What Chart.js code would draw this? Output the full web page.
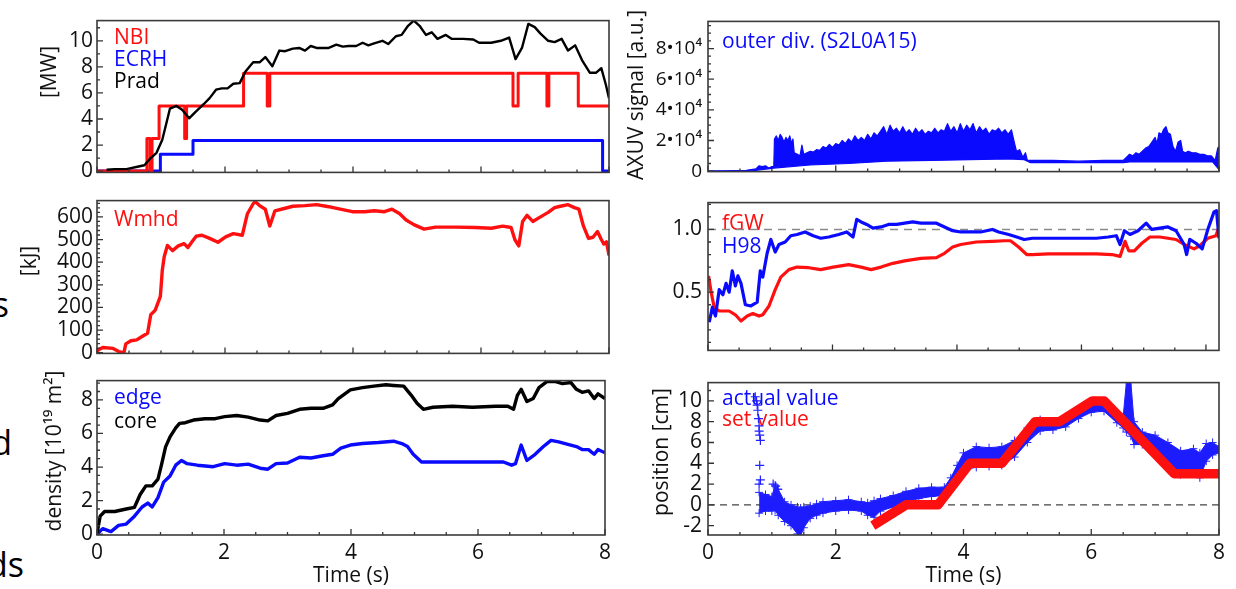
<!DOCTYPE html>
<html><head><meta charset="utf-8">
<script src="https://cdn.jsdelivr.net/npm/chart.js@4.4.1/dist/chart.umd.min.js"></script>
<style>
html,body{margin:0;padding:0;background:#fff;}
body{width:1236px;height:589px;overflow:hidden;position:relative;}
canvas{position:absolute;}
.frag{position:absolute;font-family:'Open Sans',sans-serif;font-size:34px;line-height:34px;color:#000;white-space:nowrap;text-align:right;width:100px;}
</style></head><body>
<div class="frag" style="left:-91px;top:287px;">s</div>
<div class="frag" style="left:-88px;top:425px;">d</div>
<div class="frag" style="left:-76px;top:547px;">ds</div>
<canvas id="p1" width="616" height="185" style="left:0px;top:4px"></canvas>
<canvas id="p2" width="616" height="186" style="left:0px;top:184px"></canvas>
<canvas id="p3" width="616" height="225" style="left:0px;top:364px"></canvas>
<canvas id="p4" width="618" height="185" style="left:612px;top:4px"></canvas>
<canvas id="p5" width="618" height="185" style="left:612px;top:184px"></canvas>
<canvas id="p6" width="618" height="225" style="left:612px;top:364px"></canvas>
<script>
// ---------------- DATA ----------------
const timeTicks = [0, 2, 4, 6, 8];
const timeLabels = ['0', '2', '4', '6', '8'];

// Panel 1: heating powers [MW]
const pradT = [0.15,0.28,0.46,0.65,0.74,0.84,0.93,1.02,1.08,1.14,1.24,1.33,1.44,1.52,1.67,1.76,1.86,1.95,2.04,2.13,2.23,2.32,2.44,2.54,2.63,2.74,2.85,2.94,3.06,3.16,3.25,3.34,3.43,3.62,3.74,3.84,3.93,4.05,4.15,4.24,4.33,4.46,4.55,4.67,4.76,4.86,4.95,5.04,5.14,5.23,5.32,5.45,5.54,5.72,5.88,5.97,6.16,6.31,6.44,6.54,6.64,6.74,6.84,6.93,7.05,7.15,7.26,7.36,7.47,7.58,7.70,7.80,7.88,7.95,8.0];
const pradV = [0.1,0.15,0.15,0.35,0.45,1.0,1.4,2.4,3.6,4.8,5.0,4.7,4.05,4.45,5.15,5.6,6.25,6.35,6.35,6.7,6.75,7.65,8.35,8.35,8.75,8.05,9.25,9.2,9.4,9.45,9.25,9.6,9.45,9.45,9.7,9.55,9.6,9.6,9.85,9.65,9.8,10.0,9.75,10.35,10.45,11.15,11.55,11.15,10.45,10.65,10.15,10.45,10.15,10.15,10.1,9.85,9.85,10.0,10.25,8.6,9.45,11.3,11.05,10.55,10.0,9.9,10.15,9.25,9.65,8.5,7.55,7.55,7.9,6.65,5.6];
const nbiT = [0,0.78,0.78,0.83,0.83,0.86,0.86,0.97,0.97,1.37,1.37,1.40,1.40,2.29,2.29,2.66,2.66,2.70,2.70,6.50,6.50,6.58,6.58,7.03,7.03,7.06,7.06,7.52,7.52,8.0];
const nbiV = [0,0,2.5,2.5,0,0,2.5,2.5,5,5,2.5,2.5,5,5,7.5,7.5,5,5,7.5,7.5,5,5,7.5,7.5,5,5,7.5,7.5,5,5];
const ecrhT = [0,0.99,0.99,1.5,1.5,7.9,7.9,8.0];
const ecrhV = [0,0,1.3,1.3,2.35,2.35,0,0];
const mwTicks = [0,2,4,6,8,10];
const mwLabels = ['0','2','4','6','8','10'];

// Panel 2: Wmhd [kJ]
const wT = [0.0,0.02,0.09,0.25,0.34,0.42,0.45,0.53,0.62,0.71,0.79,0.84,0.91,0.99,1.02,1.05,1.10,1.18,1.27,1.36,1.42,1.49,1.55,1.64,1.76,1.89,2.01,2.13,2.27,2.35,2.44,2.47,2.54,2.63,2.70,2.78,2.91,3.06,3.25,3.43,3.62,3.80,3.99,4.18,4.33,4.49,4.61,4.73,4.83,4.95,5.11,5.29,5.60,5.91,6.16,6.34,6.47,6.53,6.59,6.65,6.72,6.81,6.93,7.05,7.15,7.24,7.36,7.46,7.53,7.60,7.68,7.75,7.82,7.88,7.92,7.96,8.0];
const wV = [5,12,23,19,5,-1,39,53,57,73,86,168,188,249,364,424,474,451,472,482,465,492,515,519,505,488,512,526,519,614,658,668,650,634,560,627,636,647,650,654,645,634,623,623,627,623,634,614,586,566,546,555,555,553,550,559,553,499,472,580,607,580,600,620,641,647,654,641,634,560,505,510,535,500,480,490,430];
const kjTicks = [0,100,200,300,400,500,600];
const kjLabels = ['0','100','200','300','400','500','600'];

// Panel 3: density [1e19 m^-2]
const coreT = [0,0.05,0.12,0.28,0.46,0.59,0.68,0.77,0.87,0.96,1.02,1.08,1.15,1.24,1.30,1.39,1.52,1.70,1.86,2.01,2.20,2.38,2.57,2.69,2.82,3.00,3.19,3.37,3.56,3.71,3.80,3.99,4.18,4.36,4.55,4.67,4.83,4.95,5.04,5.14,5.29,5.60,5.91,6.28,6.47,6.56,6.62,6.68,6.77,6.87,6.96,7.09,7.21,7.33,7.46,7.55,7.64,7.74,7.83,7.89,8.0];
const coreV = [0.05,1.07,1.35,1.35,1.5,1.6,2.36,2.88,2.88,3.28,4.2,5.2,5.8,6.33,6.6,6.64,6.8,6.88,6.88,7.0,7.07,6.97,6.8,6.75,7.07,7.2,7.44,7.5,7.5,7.7,8.08,8.6,8.73,8.82,8.9,8.86,8.82,8.27,7.8,7.44,7.56,7.62,7.56,7.62,7.62,7.44,8.27,8.63,7.9,8.08,8.73,9.1,9.1,8.97,9.04,8.63,8.45,8.54,8.08,8.36,8.08];
const edgeT = [0,0.09,0.22,0.34,0.46,0.59,0.71,0.80,0.87,0.96,1.05,1.15,1.24,1.33,1.42,1.58,1.83,2.01,2.20,2.38,2.57,2.69,2.82,3.00,3.19,3.37,3.56,3.71,3.84,3.99,4.18,4.43,4.67,4.80,4.89,4.98,5.11,5.29,5.91,6.40,6.53,6.59,6.68,6.77,6.90,7.03,7.15,7.27,7.46,7.55,7.64,7.74,7.83,7.89,8.0];
const edgeV = [0,0.33,0.15,0.52,0.6,1.07,1.62,1.85,1.62,2.18,3.1,3.47,4.11,4.39,4.2,4.11,4.02,4.2,4.11,4.17,3.93,3.87,4.2,4.24,4.58,4.54,4.67,4.76,5.13,5.31,5.4,5.46,5.54,5.4,5.22,4.76,4.3,4.3,4.3,4.3,4.11,4.2,5.31,4.39,4.76,5.22,5.59,5.5,5.31,5.22,5.04,5.04,4.76,5.04,4.85];
const denTicks = [0,2,4,6,8];
const denLabels = ['0','2','4','6','8'];

// Panel 4: AXUV signal, in units of 1e4 a.u. (upper envelope of spikes and lower baseline)
const axT = [0,0.3,0.6,0.75,0.8,0.85,0.9,0.95,1.0,1.03,
  1.04,1.07,1.10,1.13,1.16,1.19,1.22,1.25,1.28,1.31,1.33,1.35,1.40,1.44,1.47,1.50,
  1.55,1.60,1.65,1.70,1.75,1.80,1.85,1.90,1.95,2.00,2.05,2.10,2.15,2.20,2.25,2.30,2.35,2.40,2.45,2.50,
  2.55,2.60,2.65,2.70,2.75,2.80,2.85,2.90,2.95,3.00,3.05,3.10,3.15,3.20,3.25,3.30,3.35,3.40,3.45,3.50,
  3.55,3.60,3.65,3.70,3.75,3.80,3.85,3.90,3.95,4.00,4.05,4.10,4.15,4.20,4.25,4.30,4.35,4.40,4.45,4.50,
  4.55,4.60,4.65,4.70,4.75,4.80,4.83,4.88,4.93,4.97,5.00,
  5.10,5.40,5.80,6.20,6.50,
  6.55,6.60,6.65,6.70,6.75,6.80,6.85,6.90,6.95,7.00,7.03,7.06,7.10,7.13,7.17,7.20,7.24,7.28,7.32,7.36,
  7.40,7.43,7.47,7.52,7.58,7.64,7.70,7.76,7.82,7.88,7.94,7.98,8.0];
const axHi = [0,0,0.05,0.15,0.35,0.3,0.35,0.2,0.3,0.3,
  2.1,2.3,2.0,2.4,2.2,1.9,2.2,2.0,2.3,1.8,2.1,1.2,1.1,1.0,1.7,1.1,
  1.2,1.3,1.25,1.4,1.35,1.6,1.5,1.75,1.55,1.8,1.7,2.0,1.8,2.1,1.9,2.3,2.0,2.2,2.0,2.4,
  2.1,2.5,2.3,2.6,2.9,2.4,3.0,2.6,2.8,2.5,2.9,2.5,2.7,2.4,2.8,2.5,2.7,2.4,2.6,2.5,
  2.8,2.5,2.7,2.6,3.1,2.6,2.9,2.5,3.1,2.6,3.0,2.7,3.1,2.5,2.9,2.6,2.8,2.4,2.7,2.6,
  2.8,2.5,2.7,2.4,2.7,1.8,1.3,1.4,0.9,1.2,0.7,
  0.7,0.7,0.65,0.7,0.7,
  0.9,1.1,1.0,1.2,1.1,1.3,1.5,1.6,1.9,2.2,1.8,2.5,2.4,2.7,2.9,2.5,2.4,1.6,1.3,1.9,
  2.0,1.3,1.2,1.3,1.2,1.2,1.1,1.1,1.0,1.0,0.7,1.5,1.6];
const axLoT = [0,0.75,1.03,1.6,2.2,2.8,3.5,4.1,4.7,4.95,5.05,6.5,6.6,7.9,8.0];
const axLo = [0,0.05,0.2,0.4,0.5,0.65,0.7,0.75,0.8,0.75,0.55,0.55,0.6,0.6,0.1];
const axTicks = [0,2,4,6,8];
const axLabels = ['0','2\u202210\u2074','4\u202210\u2074','6\u202210\u2074','8\u202210\u2074'];

// Panel 5: fGW and H98 (this panel's time axis runs to 8.21 s)
const p5Xmax = 8.21;
const fgwT = [0.01,0.05,0.10,0.18,0.34,0.44,0.53,0.63,0.72,0.82,0.88,0.98,1.08,1.17,1.30,1.43,1.62,1.81,2.01,2.26,2.46,2.62,2.78,2.97,3.16,3.42,3.67,3.80,3.93,4.06,4.31,4.57,4.76,4.86,4.99,5.12,5.21,5.47,5.85,6.24,6.49,6.62,6.70,6.76,6.85,6.97,7.10,7.26,7.39,7.52,7.65,7.81,7.90,8.03,8.16,8.21];
const fgwV = [0.63,0.50,0.38,0.35,0.35,0.32,0.27,0.31,0.33,0.31,0.32,0.39,0.52,0.62,0.68,0.70,0.695,0.68,0.70,0.72,0.70,0.68,0.70,0.73,0.75,0.77,0.775,0.81,0.86,0.88,0.90,0.905,0.91,0.91,0.86,0.80,0.80,0.805,0.805,0.805,0.80,0.785,0.905,0.83,0.83,0.89,0.94,0.94,0.93,0.92,0.88,0.845,0.87,0.93,0.95,1.02];
const h98T = [0.02,0.07,0.12,0.18,0.24,0.29,0.34,0.39,0.44,0.48,0.53,0.60,0.69,0.79,0.84,0.88,0.95,1.01,1.08,1.14,1.24,1.33,1.43,1.56,1.69,1.81,1.94,2.10,2.23,2.33,2.39,2.46,2.55,2.65,2.78,2.90,3.03,3.16,3.29,3.42,3.54,3.67,3.80,3.93,4.06,4.19,4.38,4.57,4.67,4.83,4.96,5.08,5.21,5.47,5.85,6.24,6.43,6.56,6.62,6.69,6.78,6.91,7.04,7.13,7.26,7.39,7.52,7.65,7.69,7.74,7.84,7.94,8.03,8.13,8.17,8.21];
const h98V = [0.26,0.38,0.31,0.52,0.48,0.57,0.50,0.67,0.55,0.63,0.57,0.40,0.39,0.42,0.67,0.62,0.81,0.92,0.82,0.88,0.90,0.95,0.96,0.98,0.95,0.93,0.94,0.96,0.98,0.94,1.08,1.06,1.04,1.01,1.02,1.04,1.04,1.05,1.06,1.05,1.05,1.05,1.02,0.99,0.98,0.98,0.98,1.00,0.98,0.96,0.94,0.92,0.93,0.93,0.93,0.93,0.94,0.95,0.88,0.99,0.96,0.99,1.05,1.00,1.01,1.02,0.99,0.88,0.80,0.92,0.89,0.845,1.00,1.14,1.15,0.93];
const refOneT = [0, 8.21];
const refOneV = [1.0, 1.0];
const p5Ticks = [0.5, 1.0];
const p5Labels = ['0.5', '1.0'];

// Panel 6: strike-point position [cm]
const setT = [2.58,3.1,3.6,4.1,4.6,5.12,5.5,6.02,6.2,7.3,8.0];
const setV = [-2,0,0,4,4,8,8,10,10,3,3];
const posT = [0.80,0.90,1.00,1.05,1.10,1.20,1.30,1.40,1.45,1.50,1.60,1.70,1.80,2.00,2.20,2.40,2.50,2.60,2.70,2.90,3.10,3.30,3.50,3.70,3.80,3.90,4.00,4.20,4.40,4.60,4.80,5.00,5.20,5.40,5.60,5.80,6.00,6.20,6.40,6.50,6.55,6.62,6.67,6.80,7.00,7.20,7.40,7.60,7.70,7.80,7.90,8.00];
const posHi = [1.2,1.0,0.8,1.9,1.5,0.3,0.0,-0.2,-0.3,-0.2,-0.1,0.1,0.3,0.4,0.5,0.3,0.2,0.4,0.6,0.9,1.3,1.6,1.7,1.7,2.6,3.8,5.0,5.6,5.5,5.6,6.2,7.4,8.2,8.0,8.4,9.2,9.9,9.8,8.9,8.5,11.8,11.8,8.0,7.0,6.7,6.0,5.2,5.4,5.0,5.9,6.0,5.6];
const posLo = [-0.8,-0.6,-0.6,-0.5,-1.0,-1.6,-2.0,-2.8,-3.0,-2.2,-1.3,-1.0,-0.8,-0.6,-0.5,-0.6,-1.0,-1.2,-0.6,-0.2,0.3,0.6,0.8,0.9,1.4,2.3,3.4,3.6,3.7,3.8,4.6,6.0,7.1,7.2,7.5,8.3,8.9,9.0,7.9,7.4,7.0,6.6,5.8,5.8,5.1,4.3,2.9,3.2,2.6,4.2,4.8,5.0];
const crossT = [0.74,0.76,0.77,0.78,0.79,0.80,0.80,0.81,0.82,0.81,0.82,0.80,1.02,1.06,1.09];
const crossV = [10.4,10.0,9.6,9.1,8.3,7.6,7.1,6.7,6.2,3.8,2.4,2.0,2.0,1.8,1.5];
const refZeroT = [0, 8];
const refZeroV = [0, 0];
const posTicks = [-2,0,2,4,6,8,10];
const posLabels = ['-2','0','2','4','6','8','10'];

// ---------------- RENDERING ----------------
const FONT = "'Open Sans', 'DejaVu Sans', sans-serif";
const RED = '#ff1010', BLUE = '#0a0aff', BLACK = '#000000';
const pts = (T, V) => T.map((t, i) => ({x: t, y: V[i]}));

const boxPlugin = {
  id: 'box',
  beforeDatasetsDraw(chart, args, o) {
    const {ctx, chartArea: a} = chart;
    ctx.save();
    ctx.font = '21px ' + FONT;
    ctx.textAlign = 'left';
    ctx.textBaseline = 'alphabetic';
    (o.legend || []).forEach(l => {
      ctx.fillStyle = l.color;
      ctx.fillText(l.text, a.left + o.legendX, a.top + l.dy);
    });
    ctx.restore();
  },
  afterDatasetsDraw(chart, args, o) {
    const {ctx, chartArea: a, scales: {x, y}} = chart;
    ctx.save();
    ctx.strokeStyle = '#333';
    ctx.lineWidth = 1.3;
    ctx.beginPath();
    for (let k = 0; k * 0.5 <= o.xTickMax + 1e-9; k++) {
      const px = x.getPixelForValue(k * 0.5);
      const len = (k % 4 === 0) ? 6 : 3;
      ctx.moveTo(px, a.bottom); ctx.lineTo(px, a.bottom - len);
    }
    const yMinor = o.yMinor;
    for (let k = Math.ceil(y.min / yMinor); k * yMinor <= y.max + 1e-9; k++) {
      const v = k * yMinor;
      const major = o.yMajor.some(m => Math.abs(m - v) < 1e-6);
      const py = y.getPixelForValue(v);
      ctx.moveTo(a.left, py); ctx.lineTo(a.left + (major ? 6 : 3), py);
    }
    ctx.stroke();
    ctx.lineWidth = 1.6;
    ctx.strokeStyle = '#3a3a3a';
    ctx.strokeRect(a.left, a.top, a.right - a.left, a.bottom - a.top);
    ctx.restore();
  },
  afterDraw(chart, args, o) {
    const {ctx, chartArea: a} = chart;
    ctx.save();
    ctx.fillStyle = '#111';
    ctx.font = '21px ' + FONT;
    if (o.yTitle) {
      ctx.translate(o.yTitle.x, o.yTitle.y);
      ctx.rotate(-Math.PI / 2);
      ctx.textAlign = 'center';
      ctx.textBaseline = 'middle';
      ctx.fillText(o.yTitle.text, 0, 0);
      ctx.setTransform(1, 0, 0, 1, 0, 0);
    }
    if (o.xTitle) {
      ctx.textAlign = 'center';
      ctx.textBaseline = 'alphabetic';
      ctx.fillText(o.xTitle.text, (a.left + a.right) / 2, o.xTitle.y);
    }
    ctx.restore();
  }
};

function panel(p) {
  const cv = document.getElementById(p.id);
  const W = cv.width, H = cv.height;
  const [pl, pt, pr, pb] = p.plot;
  const yW = pl - p.cl;
  const padT = pt - p.ct;
  const padR = p.cl + W - pr;
  const padB = H - (pb - p.ct) - p.xH;
  return new Chart(cv, {
    type: 'line',
    data: {datasets: p.datasets},
    options: {
      responsive: false, animation: false, events: [],
      layout: {padding: {left: 0, top: padT, right: padR, bottom: padB}},
      elements: {point: {radius: 0}, line: {tension: 0, borderJoinStyle: 'round'}},
      plugins: {
        legend: {display: false}, tooltip: {enabled: false},
        box: {
          legend: p.legend, legendX: p.legendX,
          xTickMax: p.xTickMax, yMinor: p.yMinor, yMajor: p.yTicks,
          yTitle: {text: p.yTitle[0], x: p.yTitle[1] - p.cl, y: p.yTitle[2] - p.ct},
          xTitle: p.xLabels ? {text: 'Time (s)', y: 582 - p.ct} : null
        }
      },
      scales: {
        x: {
          type: 'linear', min: 0, max: p.xMax,
          afterFit: s => { s.height = p.xH; },
          afterBuildTicks: s => { s.ticks = timeTicks.map(v => ({value: v})); },
          grid: {display: false, drawTicks: false}, border: {display: false},
          ticks: {display: !!p.xLabels, padding: 5, autoSkip: false, maxRotation: 0,
                  font: {family: FONT, size: 21}, color: '#111',
                  callback: (v, i) => timeLabels[i]}
        },
        y: {
          type: 'linear', min: p.yMin, max: p.yMax,
          afterFit: s => { s.width = yW; },
          afterBuildTicks: s => { s.ticks = p.yTicks.map(v => ({value: v})); },
          grid: {display: false, drawTicks: false}, border: {display: false},
          ticks: {padding: p.yPad, autoSkip: false, font: {family: FONT, size: p.yFont || 21}, color: '#111',
                  callback: (v, i) => p.yLabels[i]}
        }
      }
    },
    plugins: [boxPlugin]
  });
}

const line = (data, color, w, extra) => Object.assign({data, borderColor: color, borderWidth: w, fill: false, pointRadius: 0}, extra || {});

// Panel 1
panel({id: 'p1', cl: 0, ct: 4, plot: [97, 10, 609, 175], xH: 0, xMax: 8, xTickMax: 8,
  yMin: -0.1, yMax: 11.55, yTicks: mwTicks, yLabels: mwLabels, yMinor: 1, yPad: 4,
  yTitle: ['[MW]', 50, 72], legendX: 17,
  legend: [{text: 'NBI', color: RED, dy: 23}, {text: 'ECRH', color: BLUE, dy: 45}, {text: 'Prad', color: BLACK, dy: 67}],
  datasets: [line(pts(pradT, pradV), BLACK, 2.4), line(pts(nbiT, nbiV), RED, 3), line(pts(ecrhT, ecrhV), BLUE, 3)]});

// Panel 2
panel({id: 'p2', cl: 0, ct: 184, plot: [97, 190, 609, 356], xH: 0, xMax: 8, xTickMax: 8,
  yMin: -3, yMax: 672, yTicks: kjTicks, yLabels: kjLabels, yMinor: 20, yPad: 4,
  yTitle: ['[kJ]', 30, 261], legendX: 17,
  legend: [{text: 'Wmhd', color: RED, dy: 25}],
  datasets: [line(pts(wT, wV), RED, 3.4)]});

// Panel 3
panel({id: 'p3', cl: 0, ct: 364, plot: [97, 370, 609, 535], xH: 54, xLabels: true, xMax: 8, xTickMax: 8,
  yMin: -0.05, yMax: 9.15, yTicks: denTicks, yLabels: denLabels, yMinor: 0.5, yPad: 4,
  yTitle: ['density [10\u00B9\u2079 m\u00B2]', 55, 451], legendX: 17,
  legend: [{text: 'edge', color: BLUE, dy: 23}, {text: 'core', color: BLACK, dy: 47}],
  datasets: [line(pts(coreT, coreV), BLACK, 3.4), line(pts(edgeT, edgeV), BLUE, 3.4)]});

// Panel 4
panel({id: 'p4', cl: 612, ct: 4, plot: [708, 10, 1219, 175], xH: 0, xMax: 8, xTickMax: 8,
  yMin: -0.03, yMax: 9.77, yTicks: axTicks, yLabels: axLabels, yMinor: 0.5, yPad: 6, yFont: 19,
  yTitle: ['AXUV signal [a.u.]', 637, 95], legendX: 14,
  legend: [{text: 'outer div. (S2L0A15)', color: BLUE, dy: 27}],
  datasets: [
    line(pts(axT, axHi), BLUE, 1.2, {fill: '+1', backgroundColor: BLUE}),
    line(pts(axLoT, axLo), BLUE, 1.2)
  ]});

// Panel 5
panel({id: 'p5', cl: 612, ct: 184, plot: [708, 190, 1219, 355], xH: 0, xMax: p5Xmax, xTickMax: 8,
  yMin: 0.036, yMax: 1.214, yTicks: p5Ticks, yLabels: p5Labels, yMinor: 0.1, yPad: 6,
  yTitle: ['', 0, 0], legendX: 14,
  legend: [{text: 'fGW', color: RED, dy: 27}, {text: 'H98', color: BLUE, dy: 50}],
  datasets: [
    line(pts(h98T, h98V), BLUE, 3.2),
    line(pts(fgwT, fgwV), RED, 3.2),
    line(pts(refOneT, refOneV), '#8a8a8a', 1.5, {borderDash: [8, 6]})
  ]});

// Panel 6
panel({id: 'p6', cl: 612, ct: 364, plot: [708, 370, 1219, 535], xH: 54, xLabels: true, xMax: 8, xTickMax: 8,
  yMin: -2.9, yMax: 11.76, yTicks: posTicks, yLabels: posLabels, yMinor: 1, yPad: 6,
  yTitle: ['position [cm]', 662, 452], legendX: 14,
  legend: [{text: 'actual value', color: BLUE, dy: 22}, {text: 'set value', color: RED, dy: 43}],
  datasets: [
    line(pts(setT, setV), RED, 9.5, {borderCapStyle: 'butt'}),
    line(pts(crossT, crossV), '#2020ff', 1.2, {showLine: false, pointStyle: 'cross', pointRadius: 4.5, pointBorderWidth: 1.2}),
    line(pts(posT, posHi), '#2020ff', 1, {fill: '+1', backgroundColor: '#1c1cff', pointStyle: 'cross', pointRadius: 4, pointBorderWidth: 1}),
    line(pts(posT, posLo), '#2020ff', 1, {pointStyle: 'cross', pointRadius: 4, pointBorderWidth: 1}),
    line(pts(refZeroT, refZeroV), '#444', 1.2, {borderDash: [7, 5]})
  ]});
</script>
</body></html>
